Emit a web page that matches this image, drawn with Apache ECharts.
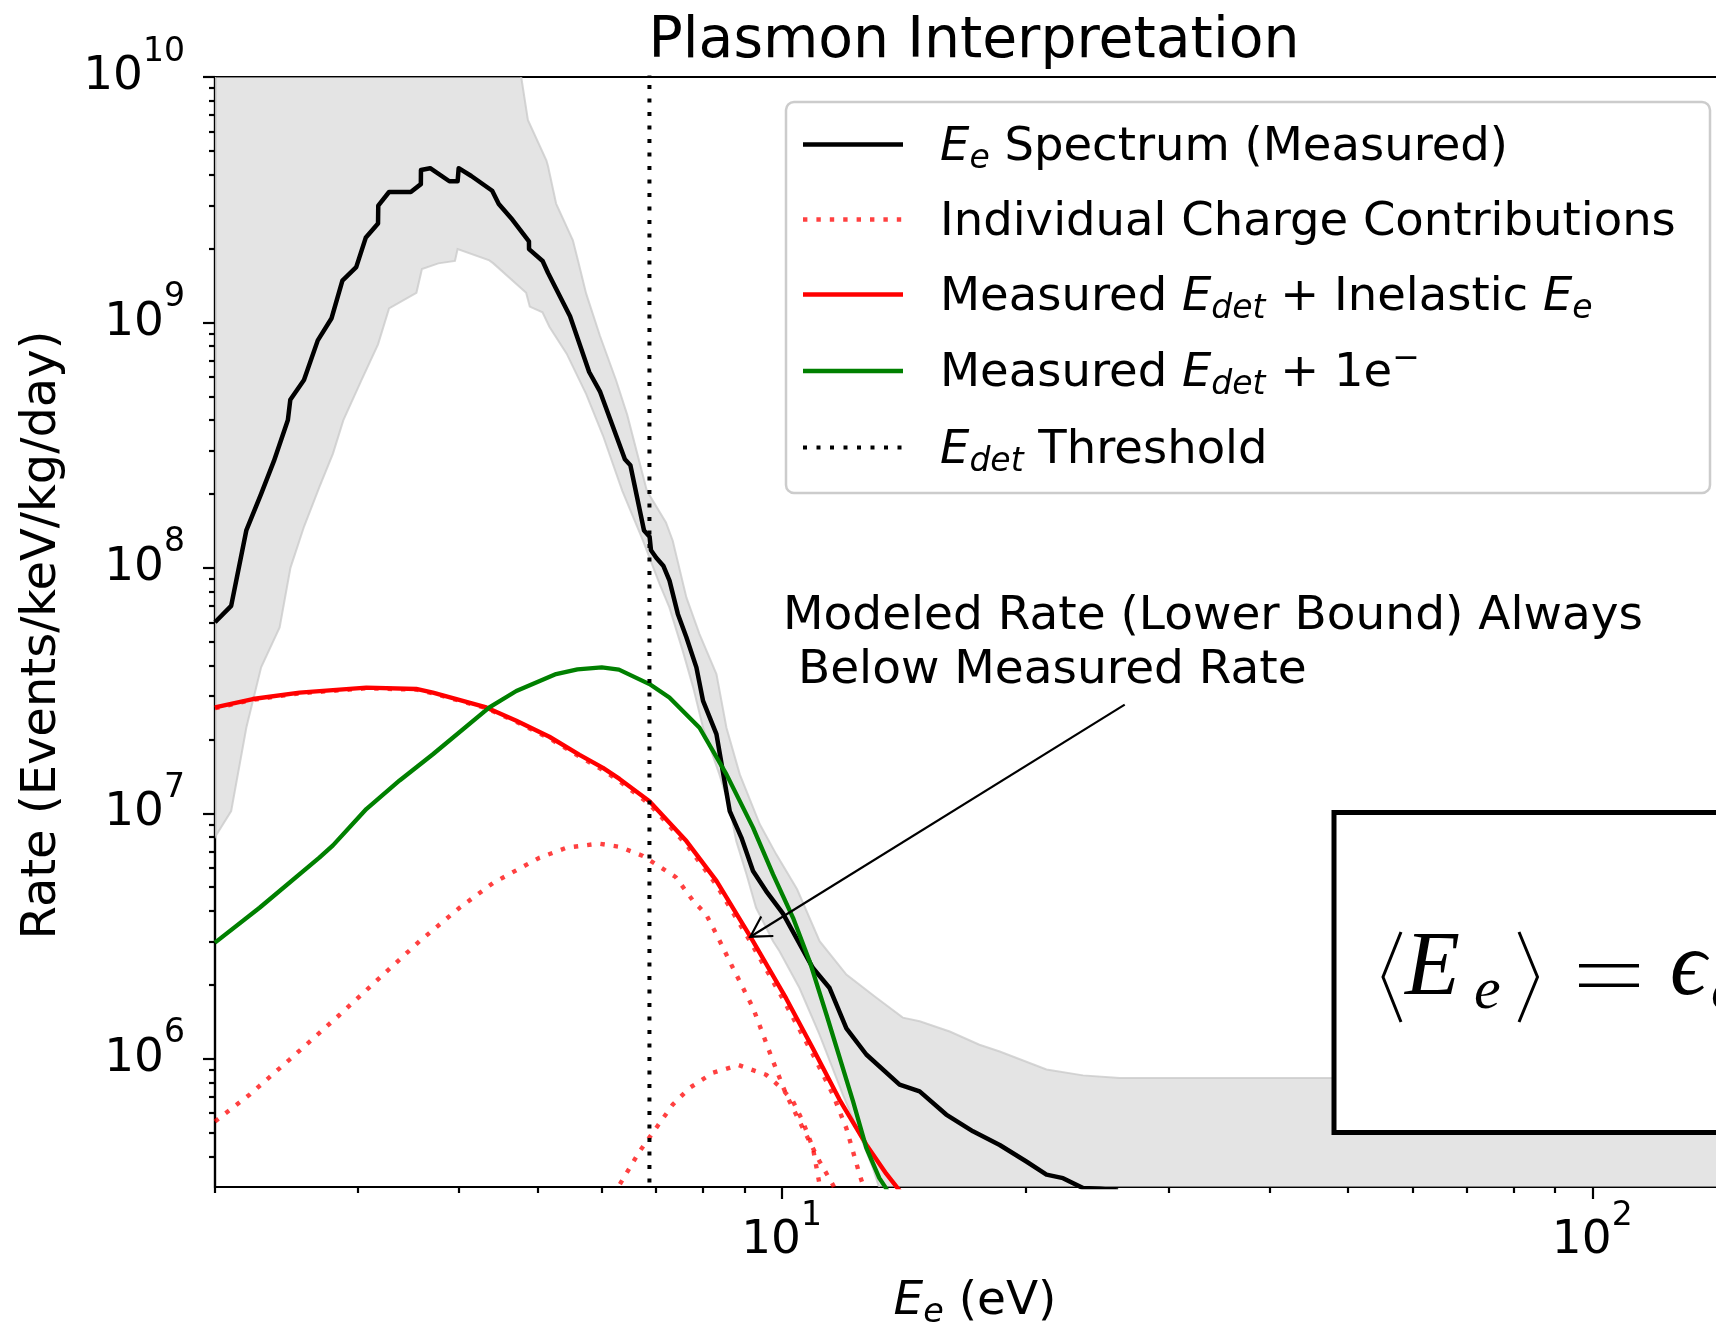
<!DOCTYPE html>
<html><head><meta charset="utf-8">
<script src="https://cdn.jsdelivr.net/npm/echarts@6.0.0/dist/echarts.min.js"></script>
<style>html,body{margin:0;padding:0;background:#fff;overflow:hidden;width:1716px;height:1325px}#chart{width:1740px;height:1325px}</style>
</head><body><div id="chart"></div>
<script>
// ---------------- data ----------------
const xMajorTicks = [10, 100];
const xMinorTicks = [2, 3, 4, 5, 6, 7, 8, 9, 20, 30, 40, 50, 60, 70, 80, 90];
const yMajorTicks = [1e6, 1e7, 1e8, 1e9, 1e10];
const yMinorTicks = [4e5, 5e5, 6e5, 7e5, 8e5, 9e5, 2e6, 3e6, 4e6, 5e6, 6e6, 7e6, 8e6, 9e6,
  2e7, 3e7, 4e7, 5e7, 6e7, 7e7, 8e7, 9e7, 2e8, 3e8, 4e8, 5e8, 6e8, 7e8, 8e8, 9e8,
  2e9, 3e9, 4e9, 5e9, 6e9, 7e9, 8e9, 9e9];

const measuredE = [2.0, 2.094, 2.186, 2.28, 2.364, 2.46, 2.477, 2.575, 2.678, 2.785, 2.872, 2.987, 3.07, 3.178, 3.18, 3.279, 3.488, 3.589, 3.59, 3.685, 3.892, 3.984, 3.996, 4.142, 4.395, 4.478, 4.656, 4.879, 4.88, 5.072, 5.151, 5.483, 5.789, 5.973, 6.407, 6.508, 6.765, 6.873, 6.9, 7.004, 7.145, 7.273, 7.447, 7.63, 7.85, 8.0, 8.31, 8.46, 8.63, 8.92, 9.22, 9.57, 10.04, 10.93, 11.46, 12.02, 12.72, 13.98, 14.8, 15.96, 17.22, 18.58, 20.04, 21.22, 22.24, 23.54, 24.7, 26];
const measuredRate = [6.0e7, 7.0e7, 1.42e8, 2.0e8, 2.72e8, 4.0e8, 4.84e8, 5.83e8, 8.45e8, 1.04e9, 1.48e9, 1.68e9, 2.22e9, 2.53e9, 2.99e9, 3.40e9, 3.40e9, 3.66e9, 4.18e9, 4.25e9, 3.76e9, 3.76e9, 4.25e9, 3.95e9, 3.44e9, 3.04e9, 2.62e9, 2.14e9, 1.99e9, 1.78e9, 1.59e9, 1.06e9, 6.28e8, 5.21e8, 2.77e8, 2.62e8, 1.42e8, 1.34e8, 1.18e8, 1.10e8, 1.02e8, 8.87e7, 6.49e7, 5.21e7, 3.93e7, 2.87e7, 2.10e7, 1.49e7, 1.02e7, 7.96e6, 5.82e6, 4.82e6, 3.9e6, 2.34e6, 1.94e6, 1.33e6, 1.04e6, 7.84e5, 7.36e5, 5.92e5, 5.06e5, 4.45e5, 3.81e5, 3.37e5, 3.26e5, 2.97e5, 2.95e5, 2.9e5];

const bandUpperE = [2.0, 4.6, 4.773, 4.864, 5.126, 5.15, 5.27, 5.527, 5.61, 5.74, 5.97, 6.25, 6.45, 6.82, 7.2, 7.34, 7.63, 7.92, 8.31, 8.55, 8.88, 9.40, 9.85, 10.45, 11.14, 12.02, 13.09, 14.11, 14.8, 16.12, 17.54, 18.58, 21.22, 23.54, 26.12, 150];
const bandUpperRate = [3e10, 1.5e10, 1.0e10, 6.68e9, 4.58e9, 4.34e9, 3.05e9, 2.16e9, 1.78e9, 1.31e9, 8.8e8, 5.8e8, 4.2e8, 2.06e8, 1.53e8, 1.29e8, 7.58e7, 5.37e7, 3.69e7, 2.23e7, 1.44e7, 9.02e6, 6.8e6, 4.9e6, 3.01e6, 2.2e6, 1.77e6, 1.47e6, 1.42e6, 1.29e6, 1.14e6, 1.07e6, 9.03e5, 8.55e5, 8.34e5, 8.34e5];
const bandLowerE = [2.0, 2.094, 2.186, 2.28, 2.403, 2.478, 2.575, 2.69, 2.796, 2.88, 3.033, 3.178, 3.279, 3.544, 3.6, 3.772, 3.954, 3.984, 4.36, 4.41, 4.84, 4.89, 5.07, 5.17, 5.43, 5.74, 6.02, 6.36, 6.745, 7.07, 7.27, 7.55, 7.78, 8.0, 8.38, 8.63, 8.79, 9.05, 9.3, 9.76, 9.94, 10.52, 11.14, 11.9, 12.48, 12.96, 13.2, 14.0, 150];
const bandLowerRate = [8.0e6, 1.02e7, 2.23e7, 3.93e7, 5.72e7, 1.0e8, 1.47e8, 2.13e8, 2.92e8, 4.0e8, 5.83e8, 8.14e8, 1.14e9, 1.32e9, 1.65e9, 1.74e9, 1.78e9, 1.99e9, 1.79e9, 1.74e9, 1.32e9, 1.16e9, 1.1e9, 9.6e8, 7.46e8, 5.1e8, 3.46e8, 2.06e8, 1.29e8, 8.6e7, 6.9e7, 4.6e7, 3.25e7, 2.23e7, 1.44e7, 1.05e7, 7.7e6, 5.64e6, 4.12e6, 3.01e6, 2.74e6, 1.94e6, 1.25e6, 7.14e5, 4.9e5, 3.58e5, 2.97e5, 1.5e5, 1.5e5];

const inelasticE = [2.0, 2.227, 2.543, 3.074, 3.542, 3.714, 4.322, 4.707, 5.17, 5.633, 6.02, 6.31, 6.87, 7.63, 8.31, 9.15, 10.13, 10.93, 11.79, 12.72, 13.46, 13.98, 14.4];
const inelasticRate = [2.70e7, 2.92e7, 3.10e7, 3.25e7, 3.21e7, 3.10e7, 2.70e7, 2.38e7, 2.05e7, 1.73e7, 1.53e7, 1.38e7, 1.12e7, 7.7e6, 5.3e6, 3.14e6, 1.76e6, 1.10e6, 6.8e5, 4.46e5, 3.4e5, 2.9e5, 2.4e5];

const oneElectronE = [2.0, 2.27, 2.69, 2.796, 3.074, 3.379, 3.714, 4.36, 4.707, 5.27, 5.6, 6.0, 6.3, 6.87, 7.27, 7.92, 8.55, 9.22, 9.76, 10.33, 10.83, 11.36, 12.25, 12.72, 13.2, 13.45, 13.8];
const oneElectronRate = [2.97e6, 4.12e6, 6.59e6, 7.4e6, 1.04e7, 1.36e7, 1.74e7, 2.70e7, 3.15e7, 3.69e7, 3.86e7, 3.93e7, 3.85e7, 3.36e7, 2.96e7, 2.23e7, 1.44e7, 8.74e6, 5.64e6, 3.75e6, 2.49e6, 1.51e6, 6.7e5, 4.33e5, 3.26e5, 2.97e5, 2.4e5];

const chargeAE = [2.0, 2.206, 2.472, 2.85, 3.19, 3.576, 4.006, 4.41, 5.028, 5.43, 5.95, 6.31, 6.745, 7.4, 7.78, 8.07, 8.31, 8.71, 9.22, 9.76, 10.13, 10.72, 11.14, 11.57, 11.9];
const chargeARate = [5.55e5, 7.13e5, 9.92e5, 1.51e6, 2.13e6, 3.01e6, 4.12e6, 5.21e6, 6.59e6, 7.24e6, 7.52e6, 7.3e6, 6.7e6, 5.5e6, 4.39e6, 3.87e6, 3.21e6, 2.34e6, 1.61e6, 9.76e5, 7.14e5, 4.9e5, 3.81e5, 3.06e5, 2.5e5];
const chargeBE = [2.0, 2.227, 2.543, 3.074, 3.542, 3.714, 4.322, 4.707, 5.17, 5.633, 6.02, 6.31, 6.87, 7.63, 8.31, 9.15, 9.99, 10.93, 11.57, 12.02, 12.48, 12.8];
const chargeBRate = [2.68e7, 2.90e7, 3.08e7, 3.23e7, 3.19e7, 3.08e7, 2.68e7, 2.36e7, 2.02e7, 1.70e7, 1.50e7, 1.35e7, 1.09e7, 7.45e6, 5.1e6, 3.0e6, 1.8e6, 1.04e6, 7.14e5, 5.2e5, 3.37e5, 2.6e5];
const chargeCE = [6.0, 6.31, 6.68, 7.0, 7.34, 7.7, 8.22, 8.845, 9.57, 9.99, 10.33, 10.62, 10.93, 11.14, 11.3];
const chargeCRate = [2.2e5, 3.06e5, 4.19e5, 5.21e5, 6.5e5, 7.6e5, 8.75e5, 9.42e5, 8.6e5, 7.6e5, 6.7e5, 5.55e5, 4.33e5, 3.06e5, 2.4e5];

const thresholdE = 6.87;
const arrowFrom = [26.5, 2.77e7];
const arrowTo = [9.15, 3.14e6];

// ---------------- chart ----------------
const FONT = '"DejaVu Sans", sans-serif';
const pairs = (xs, ys) => xs.map((x, i) => [x, ys[i]]);
const chart = echarts.init(document.getElementById('chart'), null, {renderer: 'canvas', width: 1740, height: 1325});

const powRich = {
  b: {fontSize: 47, fontFamily: FONT, color: '#000', lineHeight: 83, verticalAlign: 'middle'},
  p: {fontSize: 33, fontFamily: FONT, color: '#000', lineHeight: 30, verticalAlign: 'top'}
};
const powLabel = v => '{b|10}{p|' + Math.round(Math.log10(v)) + '}';

const axisLineStyle = {color: '#000', width: 2.2};
function makeAxes(kind) {
  const isX = kind === 'x';
  const common = {
    type: 'log', logBase: 10,
    min: isX ? 2 : 3e5, max: isX ? 150 : 1e10,
    position: isX ? 'bottom' : 'left',
    splitLine: {show: false}, minorTick: {show: false}, minorSplitLine: {show: false},
    axisPointer: {show: false}
  };
  return [
    Object.assign({}, common, {
      axisLine: {show: true, onZero: false, lineStyle: axisLineStyle},
      axisTick: {show: true, inside: false, length: 12, lineStyle: axisLineStyle, customValues: isX ? xMajorTicks : yMajorTicks},
      axisLabel: {show: true, customValues: isX ? xMajorTicks : yMajorTicks, margin: isX ? 12.5 : 30,
        formatter: powLabel, rich: powRich, color: '#000'}
    }),
    Object.assign({}, common, {
      axisLine: {show: false, onZero: false},
      axisTick: {show: true, inside: false, length: 6, lineStyle: axisLineStyle, customValues: isX ? xMinorTicks : yMinorTicks},
      axisLabel: {show: false}
    })
  ];
}

const lineBase = {type: 'line', showSymbol: false, symbol: 'none', clip: true, silent: true, xAxisIndex: 0, yAxisIndex: 0, animation: false};
const dotRed = {color: 'rgba(255,0,0,0.75)', width: 4.4, type: [4.4, 9], cap: 'butt'};

const option = {
  animation: false,
  backgroundColor: '#fff',
  grid: {left: 215, top: 77, right: 5, bottom: 138, outerBoundsMode: 'none', show: true, borderColor: '#000', borderWidth: 2.2, backgroundColor: 'transparent', containLabel: false},
  xAxis: makeAxes('x'),
  yAxis: makeAxes('y'),
  series: [
    {
      type: 'custom', name: 'band', coordinateSystem: 'cartesian2d', xAxisIndex: 0, yAxisIndex: 0,
      clip: true, silent: true, z: 1,
      data: [[bandLowerE[0], bandLowerRate[0]]],
      renderItem: function (params, api) {
        const pts = [];
        for (let i = 0; i < bandUpperE.length; i++) pts.push(api.coord([bandUpperE[i], bandUpperRate[i]]));
        for (let i = bandLowerE.length - 1; i >= 0; i--) pts.push(api.coord([bandLowerE[i], bandLowerRate[i]]));
        return {type: 'polygon', shape: {points: pts},
          style: {fill: 'rgba(211,211,211,0.62)', stroke: 'rgba(200,200,200,0.75)', lineWidth: 2}};
      }
    },
    Object.assign({}, lineBase, {name: 'measured', z: 3, data: pairs(measuredE, measuredRate),
      lineStyle: {color: '#000', width: 4.5, join: 'round'}}),
    Object.assign({}, lineBase, {name: 'chargeA', z: 4, data: pairs(chargeAE, chargeARate), lineStyle: dotRed}),
    Object.assign({}, lineBase, {name: 'chargeB', z: 4, data: pairs(chargeBE, chargeBRate), lineStyle: dotRed}),
    Object.assign({}, lineBase, {name: 'chargeC', z: 4, data: pairs(chargeCE, chargeCRate), lineStyle: dotRed}),
    Object.assign({}, lineBase, {name: 'inelastic', z: 5, data: pairs(inelasticE, inelasticRate),
      lineStyle: {color: '#ff0000', width: 4.4, join: 'round'}}),
    Object.assign({}, lineBase, {name: 'oneElectron', z: 6, data: pairs(oneElectronE, oneElectronRate),
      lineStyle: {color: '#008000', width: 4.3, join: 'round'}}),
    Object.assign({}, lineBase, {name: 'threshold', z: 7, data: [[thresholdE, 1e5], [thresholdE, 1e11]],
      lineStyle: {color: '#000', width: 4, type: [4, 9.5], cap: 'butt'}}),
    {
      type: 'custom', name: 'arrow', coordinateSystem: 'cartesian2d', xAxisIndex: 0, yAxisIndex: 0,
      silent: true, z: 8, clip: false,
      dimensions: ['x0', 'y0', 'x1', 'y1'],
      encode: {x: [0, 2], y: [1, 3]},
      data: [[arrowFrom[0], arrowFrom[1], arrowTo[0], arrowTo[1]]],
      renderItem: function (params, api) {
        const p0 = api.coord([api.value(0), api.value(1)]);
        const p1 = api.coord([api.value(2), api.value(3)]);
        const ang = Math.atan2(p0[1] - p1[1], p0[0] - p1[0]);
        const L = 23, spread = Math.PI / 6;
        const a1 = [p1[0] + L * Math.cos(ang + spread), p1[1] + L * Math.sin(ang + spread)];
        const a2 = [p1[0] + L * Math.cos(ang - spread), p1[1] + L * Math.sin(ang - spread)];
        const st = {stroke: '#000', lineWidth: 2.2, fill: null};
        return {type: 'group', children: [
          {type: 'line', shape: {x1: p0[0], y1: p0[1], x2: p1[0], y2: p1[1]}, style: st},
          {type: 'polyline', shape: {points: [a1, p1, a2]}, style: st}
        ]};
      }
    }
  ],
  graphic: {elements: []}
};

// ---------------- text & decorations ----------------
const G = option.graphic.elements;
function txt(x, y, text, font, align, extra) {
  return Object.assign({type: 'text', x: x, y: y, z: 100, silent: true,
    style: {text: text, font: font, fill: '#000', align: align || 'left', textAlign: align || 'left',
      verticalAlign: 'middle', textVerticalAlign: 'middle'}}, extra || {});
}
const mathRich = (size) => ({
  n: {fontSize: size, fontFamily: FONT, fill: '#000', color: '#000', lineHeight: 63, verticalAlign: 'middle'},
  i: {fontSize: size, fontFamily: FONT, fontStyle: 'italic', fill: '#000', color: '#000', lineHeight: 63, verticalAlign: 'middle'},
  s: {fontSize: size * 0.71, fontFamily: FONT, fontStyle: 'italic', fill: '#000', color: '#000', lineHeight: 40, verticalAlign: 'top', padding: [26.7, 0, 0, 0]},
  u: {fontSize: size * 0.71, fontFamily: FONT, fill: '#000', color: '#000', lineHeight: 30, verticalAlign: 'top'}
});
function richTxt(x, y, text, size, align) {
  return {type: 'text', x: x, y: y, z: 100, silent: true,
    style: {text: text, rich: mathRich(size), fill: '#000', align: align || 'left', textAlign: align || 'left',
      verticalAlign: 'middle', textVerticalAlign: 'middle'}};
}

// title and axis names
G.push(txt(974, 42, 'Plasmon Interpretation', '56.8px ' + FONT, 'center'));
G.push(txt(43, 635, 'Rate (Events/keV/kg/day)', '48px ' + FONT, 'center', {rotation: Math.PI / 2}));
G.push(richTxt(975, 1302, '{i|E}{s|e}{n| (eV)}', 47, 'center'));

// annotation text
G.push(txt(783, 617, 'Modeled Rate (Lower Bound) Always', '47px ' + FONT, 'left'));
G.push(txt(783, 671, ' Below Measured Rate', '47px ' + FONT, 'left'));

// legend
G.push({type: 'rect', z: 99, silent: true, shape: {x: 786, y: 102, width: 924, height: 391, r: 8},
  style: {fill: 'rgba(255,255,255,0.8)', stroke: '#cccccc', lineWidth: 2.5}});
const legendY = [144.5, 219.5, 294.5, 371, 447.5];
const legendStyles = [
  {stroke: '#000', lineWidth: 4.5},
  {stroke: 'rgba(255,0,0,0.75)', lineWidth: 4.4, lineDash: [4.4, 9]},
  {stroke: '#ff0000', lineWidth: 4.4},
  {stroke: '#008000', lineWidth: 4.3},
  {stroke: '#000', lineWidth: 4, lineDash: [4, 9.5]}
];
const legendTexts = [
  '{i|E}{s|e}{n| Spectrum (Measured)}',
  '{n|Individual Charge Contributions}',
  '{n|Measured }{i|E}{s|det}{n| + Inelastic }{i|E}{s|e}',
  '{n|Measured }{i|E}{s|det}{n| + 1e}{u|\u2212}',
  '{i|E}{s|det}{n| Threshold}'
];
legendY.forEach((y, k) => {
  G.push({type: 'line', z: 100, silent: true, shape: {x1: 803, y1: y, x2: 903, y2: y}, style: legendStyles[k]});
  G.push(richTxt(940, y + 3, legendTexts[k], 46.5, 'left'));
});

// formula box (cropped at the right edge)
const SERIF = '"Liberation Serif", "DejaVu Serif", serif';
G.push({type: 'rect', z: 100, silent: true, shape: {x: 1334, y: 812.5, width: 500, height: 320},
  style: {fill: '#fff', stroke: '#000', lineWidth: 5}});
G.push({type: 'polyline', z: 101, silent: true, shape: {points: [[1401, 932], [1383, 977], [1401, 1022]]},
  style: {stroke: '#000', lineWidth: 3, fill: null}});
G.push({type: 'polyline', z: 101, silent: true, shape: {points: [[1519, 932], [1537.5, 977], [1519, 1022]]},
  style: {stroke: '#000', lineWidth: 3, fill: null}});
G.push(txt(1405, 970, 'E', 'italic 90px ' + SERIF, 'left', {z: 101}));
G.push(txt(1474, 992, 'e', 'italic 60px ' + SERIF, 'left', {z: 101}));
G.push({type: 'rect', z: 101, silent: true, shape: {x: 1579, y: 964, width: 60, height: 3.4}, style: {fill: '#000'}});
G.push({type: 'rect', z: 101, silent: true, shape: {x: 1579, y: 983.5, width: 60, height: 3.4}, style: {fill: '#000'}});
G.push(txt(1670, 970, '\u03f5', 'italic 90px ' + SERIF, 'left', {z: 101}));
G.push(txt(1711, 992, 'e', 'italic 60px ' + SERIF, 'left', {z: 101}));

chart.setOption(option);
</script></body></html>
